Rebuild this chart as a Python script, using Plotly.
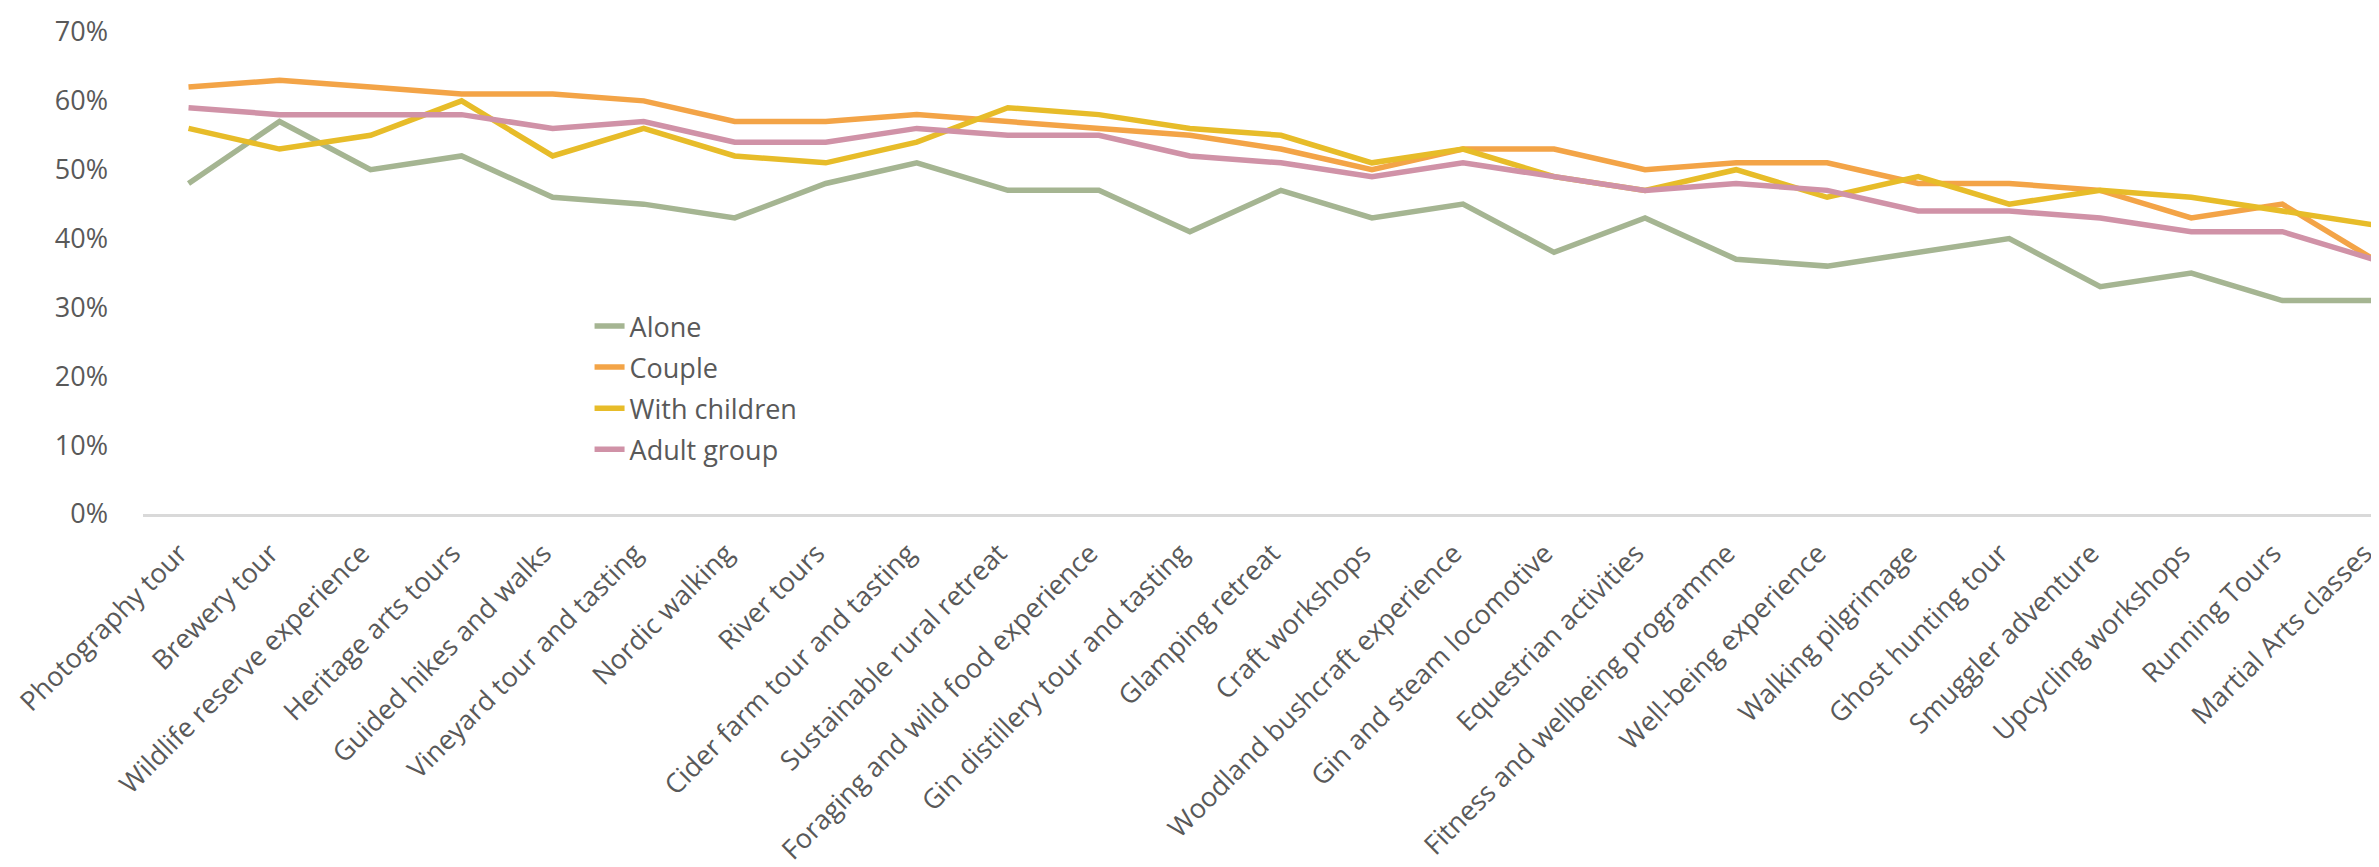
import plotly.graph_objects as go

categories = [
    "Photography tour", "Brewery tour", "Wildlife reserve experience", "Heritage arts tours",
    "Guided hikes and walks", "Vineyard tour and tasting", "Nordic walking", "River tours",
    "Cider farm tour and tasting", "Sustainable rural retreat", "Foraging and wild food experience",
    "Gin distillery tour and tasting", "Glamping retreat", "Craft workshops",
    "Woodland bushcraft experience", "Gin and steam locomotive", "Equestrian activities",
    "Fitness and wellbeing programme", "Well-being experience", "Walking pilgrimage",
    "Ghost hunting tour", "Smuggler adventure", "Upcycling workshops", "Running Tours",
    "Martial Arts classes",
]

alone = [48, 57, 50, 52, 46, 45, 43, 48, 51, 47, 47, 41, 47, 43, 45, 38, 43, 37, 36, 38, 40, 33, 35, 31, 31]
couple = [62, 63, 62, 61, 61, 60, 57, 57, 58, 57, 56, 55, 53, 50, 53, 53, 50, 51, 51, 48, 48, 47, 43, 45, 37]
with_children = [56, 53, 55, 60, 52, 56, 52, 51, 54, 59, 58, 56, 55, 51, 53, 49, 47, 50, 46, 49, 45, 47, 46, 44, 42]
adult_group = [59, 58, 58, 58, 56, 57, 54, 54, 56, 55, 55, 52, 51, 49, 51, 49, 47, 48, 47, 44, 44, 43, 41, 41, 37]

series_names = ["Alone", "Couple", "With children", "Adult group"]
series_values = [alone, couple, with_children, adult_group]
series_colors = ["#A5B592", "#F3A447", "#E7BC29", "#D092A7"]

ytick_vals = [0, 0.1, 0.2, 0.3, 0.4, 0.5, 0.6, 0.7]
ytick_text = ["0%", "10%", "20%", "30%", "40%", "50%", "60%", "70%"]

FONT = "Open Sans, DejaVu Sans, sans-serif"
TEXT_COLOR = "#595959"

fig = go.Figure()
for name, vals, color in zip(series_names, series_values, series_colors):
    fig.add_trace(go.Scatter(
        x=list(range(len(categories))),
        y=[v / 100 for v in vals],
        mode="lines",
        name=name,
        legendgroup=name,
        line=dict(color=color, width=5.5),
    ))

fig.update_layout(
    width=2379,
    height=867,
    margin=dict(l=135, r=0, t=24, b=361),
    paper_bgcolor="white",
    plot_bgcolor="white",
    font=dict(family=FONT, color=TEXT_COLOR, size=27),
    showlegend=True,
    legend=dict(
        x=0.199, y=0.44, xanchor="left", yanchor="top",
        bgcolor="rgba(0,0,0,0)",
        font=dict(family=FONT, size=27, color=TEXT_COLOR),
        traceorder="grouped",
        tracegroupgap=3,
    ),
    xaxis=dict(
        range=[-0.5, 24.15],
        tickmode="array",
        tickvals=list(range(len(categories))),
        ticktext=categories,
        tickangle=-45,
        showgrid=False,
        zeroline=False,
        showline=True,
        linecolor="#D9D9D9",
        linewidth=2.5,
        ticks="",
        tickfont=dict(family=FONT, size=27, color=TEXT_COLOR),
        ticklabelstandoff=10,
        ticklabelshift=-9,
        ticklabeloverflow="allow",
    ),
    yaxis=dict(
        range=[0, 0.7],
        tickmode="array",
        tickvals=ytick_vals,
        ticktext=ytick_text,
        showgrid=False,
        zeroline=False,
        showline=False,
        ticks="",
        tickfont=dict(family=FONT, size=27, color=TEXT_COLOR),
        ticklabelstandoff=34,
    ),
)

fig.write_html("out.html")
